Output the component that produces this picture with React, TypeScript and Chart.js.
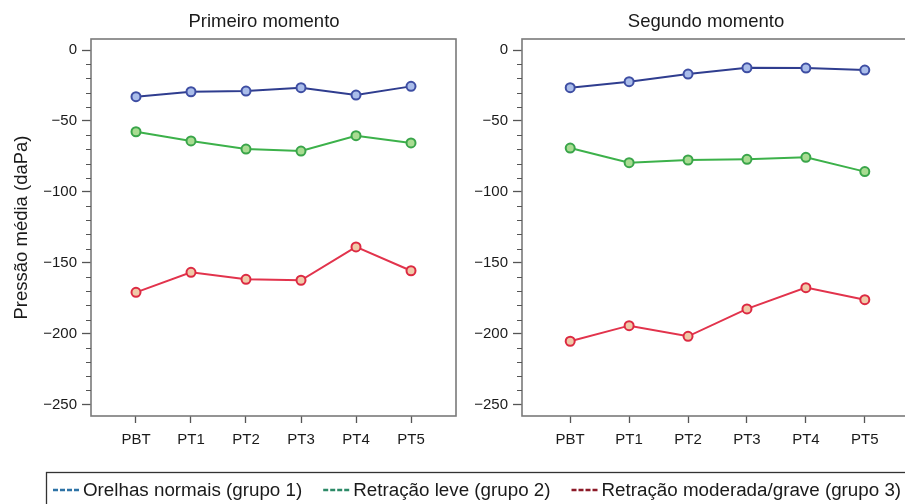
import React, { useEffect, useRef } from 'react';
import { Chart, registerables } from 'chart.js';

Chart.register(...registerables);

// ---------- data ----------
const categories = ['PBT', 'PT1', 'PT2', 'PT3', 'PT4', 'PT5'];
const seriesLabels = [
  'Orelhas normais (grupo 1)',
  'Retração leve (grupo 2)',
  'Retração moderada/grave (grupo 3)',
];
const panelTitles = ['Primeiro momento', 'Segundo momento'];
const yAxisTitle = 'Pressão média (daPa)';

const primeiroNormais = [-32.9, -29.4, -28.9, -26.5, -31.7, -25.6];
const primeiroLeve = [-57.6, -64.1, -69.8, -71.2, -60.4, -65.5];
const primeiroModerada = [-170.8, -156.7, -161.6, -162.3, -138.8, -155.6];

const segundoNormais = [-26.5, -22.3, -16.9, -12.5, -12.7, -14.1];
const segundoLeve = [-69.1, -79.4, -77.5, -77.0, -75.6, -85.7];
const segundoModerada = [-205.3, -194.3, -201.8, -182.5, -167.5, -176.0];

const yMajorTicks = [0, -50, -100, -150, -200, -250];
const yMinorTicks = [
  -10, -20, -30, -40, -60, -70, -80, -90, -110, -120, -130, -140,
  -160, -170, -180, -190, -210, -220, -230, -240,
];

// ---------- styles ----------
const FONT = '"Liberation Sans", Arial, Helvetica, sans-serif';
const TEXT = '#1a1a1a';
const FRAME = '#7a7a7a';
const TICK = '#555555';
const lineColors = ['#2f3d8f', '#3cb14a', '#e2334c'];
const pointBorders = ['#3e4ea3', '#3aa54a', '#dc2a42'];
const pointFills = ['#aabdea', '#a9dc92', '#efcaa9'];
const legendColors = ['#2e73a6', '#2d8a68', '#8c1a28'];

const fmtTick = (v: number) => (v === 0 ? '0' : '\u2212' + Math.abs(v));

function makeDatasets(series: number[][]) {
  return series.map((vals, k) => ({
    label: seriesLabels[k],
    data: vals.map((v, i) => ({ x: i, y: v })),
    borderColor: lineColors[k],
    backgroundColor: pointFills[k],
    pointBackgroundColor: pointFills[k],
    pointBorderColor: pointBorders[k],
    borderWidth: 2,
    pointRadius: 4.5,
    pointBorderWidth: 2,
    tension: 0,
  }));
}

const framePlugin = {
  id: 'panelFrame',
  beforeDatasetsDraw(chart: any, _args: any, opts: any) {
    const { ctx, chartArea: ca } = chart;
    const ys = chart.scales.y;
    ctx.save();
    ctx.strokeStyle = FRAME;
    ctx.lineWidth = 1.6;
    ctx.strokeRect(ca.left, ca.top, ca.right - ca.left, ca.bottom - ca.top);
    ctx.beginPath();
    for (const v of yMinorTicks) {
      const py = Math.round(ys.getPixelForValue(v)) + 0.5;
      ctx.moveTo(ca.left - 5, py);
      ctx.lineTo(ca.left, py);
    }
    ctx.strokeStyle = TICK;
    ctx.lineWidth = 1.2;
    ctx.stroke();
    ctx.font = `18.5px ${FONT}`;
    ctx.fillStyle = TEXT;
    ctx.textAlign = 'center';
    ctx.textBaseline = 'middle';
    ctx.fillText(opts.text, (ca.left + ca.right) / 2 + opts.dx, opts.titleY);
    ctx.restore();
  },
};

const legendPlugin = {
  id: 'bottomLegend',
  afterDraw(chart: any, _args: any, opts: any) {
    if (!opts || !opts.show) return;
    const { ctx } = chart;
    ctx.save();
    ctx.strokeStyle = '#333';
    ctx.lineWidth = 1.3;
    ctx.strokeRect(opts.boxLeft, opts.boxTop, chart.width, chart.height);
    ctx.font = `18.8px ${FONT}`;
    ctx.textBaseline = 'middle';
    ctx.textAlign = 'left';
    let x = opts.startX;
    chart.data.datasets.forEach((ds: any, k: number) => {
      ctx.setLineDash([5, 2]);
      ctx.strokeStyle = legendColors[k];
      ctx.lineWidth = 2.4;
      ctx.beginPath();
      ctx.moveTo(x, opts.y);
      ctx.lineTo(x + 27, opts.y);
      ctx.stroke();
      ctx.setLineDash([]);
      ctx.fillStyle = TEXT;
      ctx.fillText(ds.label, x + 30, opts.y + 1);
      x += 30 + ctx.measureText(ds.label).width + opts.gap;
    });
    ctx.restore();
  },
};

function makeConfig(series: number[][], p: any): any {
  return {
    type: 'line',
    data: { datasets: makeDatasets(series) },
    plugins: [framePlugin, legendPlugin],
    options: {
      animation: false,
      responsive: false,
      devicePixelRatio: 1,
      layout: { padding: p.padding },
      plugins: {
        legend: { display: false },
        tooltip: { enabled: false },
        title: { display: false },
        panelFrame: { text: p.title, dx: p.titleDx, titleY: 21.5 },
        bottomLegend: p.legend,
      },
      scales: {
        x: {
          type: 'linear',
          min: -0.818,
          max: 5.818,
          afterFit: (s: any) => { s.height = 54; },
          afterBuildTicks: (s: any) => {
            s.ticks = categories.map((_c, i) => ({ value: i }));
          },
          border: { display: false },
          grid: {
            drawOnChartArea: false,
            drawTicks: true,
            tickLength: 7,
            tickColor: TICK,
            tickWidth: 1.3,
          },
          ticks: {
            autoSkip: false,
            maxRotation: 0,
            padding: 8,
            color: TEXT,
            font: { size: 15, family: FONT },
            callback: (v: number) => categories[v] ?? '',
          },
        },
        y: {
          type: 'linear',
          min: -258,
          max: 7.8,
          afterFit: (s: any) => { s.width = p.yWidth; },
          afterBuildTicks: (s: any) => {
            s.ticks = yMajorTicks.map((v) => ({ value: v }));
          },
          border: { display: false },
          grid: {
            drawOnChartArea: false,
            drawTicks: true,
            tickLength: 9,
            tickColor: TICK,
            tickWidth: 1.3,
          },
          ticks: {
            padding: 5,
            color: TEXT,
            font: { size: 15, family: FONT },
            callback: (v: number) => fmtTick(v),
          },
          title: {
            display: p.showYTitle,
            text: yAxisTitle,
            color: TEXT,
            font: { size: 18.5, family: FONT },
            padding: { top: 11, bottom: 0 },
          },
        },
      },
    },
  };
}

export default function App() {
  const leftRef = useRef<HTMLCanvasElement | null>(null);
  const rightRef = useRef<HTMLCanvasElement | null>(null);

  useEffect(() => {
    const left = new Chart(
      leftRef.current as HTMLCanvasElement,
      makeConfig([primeiroNormais, primeiroLeve, primeiroModerada], {
        padding: { top: 39, right: 449, bottom: 34, left: 0 },
        yWidth: 91,
        showYTitle: true,
        title: panelTitles[0],
        titleDx: -9.5,
        legend: { show: true, boxLeft: 46.5, boxTop: 472.5, startX: 53, y: 490, gap: 21 },
      })
    );
    const right = new Chart(
      rightRef.current as HTMLCanvasElement,
      makeConfig([segundoNormais, segundoLeve, segundoModerada], {
        padding: { top: 39, right: 7, bottom: 0, left: 0 },
        yWidth: 62,
        showYTitle: false,
        title: panelTitles[1],
        titleDx: -11.5,
        legend: { show: false },
      })
    );
    return () => {
      left.destroy();
      right.destroy();
    };
  }, []);

  return (
    <div
      style={{
        position: 'fixed',
        left: 0,
        top: 0,
        width: 905,
        height: 504,
        overflow: 'hidden',
        background: '#ffffff',
      }}
    >
      <canvas
        ref={leftRef}
        width={905}
        height={504}
        style={{ position: 'absolute', left: 0, top: 0, width: 905, height: 504 }}
      />
      <canvas
        ref={rightRef}
        width={460}
        height={470}
        style={{ position: 'absolute', left: 460, top: 0, width: 460, height: 470 }}
      />
    </div>
  );
}
